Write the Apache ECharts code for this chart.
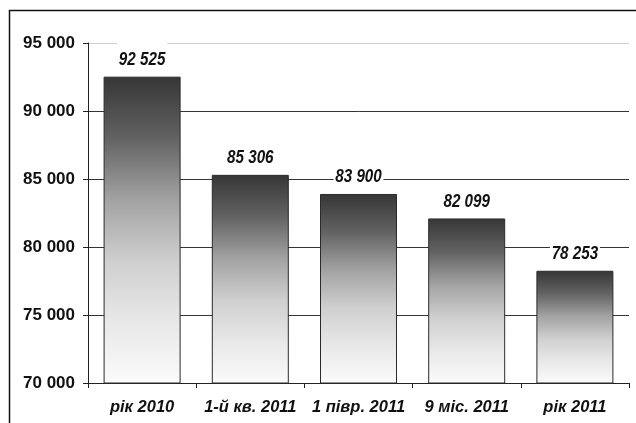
<!DOCTYPE html>
<html>
<head>
<meta charset="utf-8">
<script src="https://cdn.jsdelivr.net/npm/echarts@6/dist/echarts.min.js"></script>
<style>
  html, body { margin: 0; padding: 0; background: #fff; }
  #chart { width: 636px; height: 423px; }
</style>
</head>
<body>
<div id="chart"></div>
<script>
// Periods and totals for each period
const categories = ['рік 2010', '1-й кв. 2011', '1 півр. 2011', '9 міс. 2011', 'рік 2011'];
const values = [92525, 85306, 83900, 82099, 78253];

// Value axis range
const yMin = 70000;
const yMax = 95000;
const yStep = 5000;

const FONT = "'Liberation Sans', Arial, sans-serif";

// "92525" -> "92 525"
function spaced(v) {
  return String(v).replace(/\B(?=(\d{3})+(?!\d))/g, ' ');
}

const chart = echarts.init(document.getElementById('chart'), null, { renderer: 'canvas' });

chart.setOption({
  backgroundColor: '#fff',
  animation: false,
  graphic: [{
    type: 'rect',
    shape: { x: 9.5, y: 10.5, width: 700, height: 500 },
    style: { fill: 'none', stroke: '#111', lineWidth: 1.5 },
    z: 100
  }],
  grid: { left: 88, right: 7, top: 43, bottom: 40, containLabel: false },
  xAxis: {
    type: 'category',
    data: categories,
    boundaryGap: true,
    axisLine: { show: true, lineStyle: { color: '#222', width: 1 } },
    axisTick: { show: true, length: 5, lineStyle: { color: '#222' } },
    axisLabel: {
      interval: 0,
      margin: 16,
      color: '#111',
      fontFamily: FONT,
      fontSize: 16.5,
      fontWeight: 'bold',
      fontStyle: 'italic'
    },
    splitLine: { show: false }
  },
  yAxis: {
    type: 'value',
    min: yMin,
    max: yMax,
    interval: yStep,
    axisLine: { show: true, lineStyle: { color: '#222', width: 1 } },
    axisTick: { show: true, length: 5, lineStyle: { color: '#222' } },
    axisLabel: {
      margin: 13,
      color: '#111',
      fontFamily: FONT,
      fontSize: 17,
      fontWeight: 'bold',
      formatter: v => spaced(v)
    },
    splitLine: {
      show: true,
      lineStyle: { color: ['#333', '#333', '#333', '#333', '#333', '#cfcfcf'], width: 1 }
    }
  },
  series: [{
    type: 'bar',
    data: values,
    barWidth: 77,
    itemStyle: {
      color: new echarts.graphic.LinearGradient(0, 0, 0, 1, [
        { offset: 0, color: '#363636' },
        { offset: 0.2, color: '#626262' },
        { offset: 0.4, color: '#a2a2a2' },
        { offset: 0.6, color: '#cfcfcf' },
        { offset: 0.8, color: '#e8e8e8' },
        { offset: 1, color: '#fbfbfb' }
      ]),
      borderColor: '#2a2a2a',
      borderWidth: 1
    },
    z: 2
  }, {
    // value labels: condensed bold italic text on a white box that breaks the grid lines
    type: 'custom',
    data: values.map((v, i) => [i, v]),
    renderItem(params, api) {
      const pt = api.coord([api.value(0), api.value(1)]);
      return {
        type: 'group',
        children: [{
          type: 'rect',
          shape: { x: pt[0] - 25, y: pt[1] - 34, width: 50, height: 29 },
          style: { fill: '#fff' }
        }, {
          type: 'text',
          x: pt[0],
          y: pt[1] - 17,
          scaleX: 0.8,
          style: {
            text: spaced(api.value(1)),
            font: "italic bold 19px 'Liberation Sans', Arial, sans-serif",
            align: 'center',
            verticalAlign: 'middle',
            fill: '#111'
          }
        }]
      };
    },
    z: 5
  }]
});
</script>
</body>
</html>
